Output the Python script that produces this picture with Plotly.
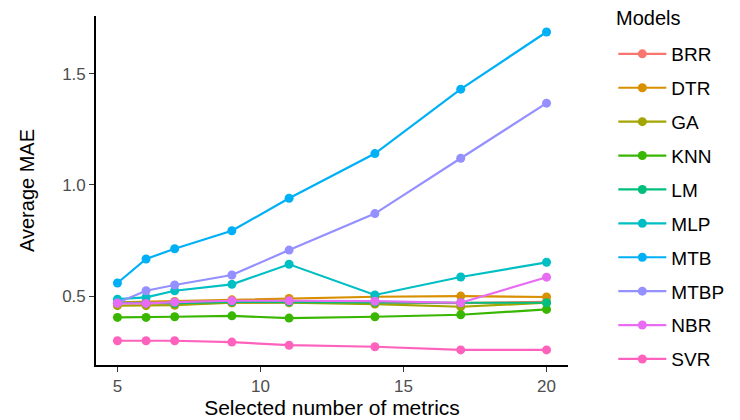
import plotly.graph_objects as go

# Number of selected metrics on the x axis
n_metrics = [5, 6, 7, 9, 11, 14, 17, 20]

models = ["BRR", "DTR", "GA", "KNN", "LM", "MLP", "MTB", "MTBP", "NBR", "SVR"]

# Average MAE per model
brr = [0.468, 0.468, 0.466, 0.470, 0.472, 0.470, 0.468, 0.474]
dtr = [0.472, 0.475, 0.476, 0.483, 0.489, 0.497, 0.500, 0.496]
ga = [0.457, 0.457, 0.459, 0.470, 0.470, 0.464, 0.452, 0.470]
knn = [0.404, 0.404, 0.407, 0.411, 0.401, 0.407, 0.416, 0.440]
lm = [0.470, 0.468, 0.468, 0.474, 0.474, 0.472, 0.470, 0.470]
mlp = [0.486, 0.494, 0.524, 0.553, 0.643, 0.505, 0.586, 0.652]
mtb = [0.559, 0.667, 0.713, 0.794, 0.940, 1.141, 1.431, 1.688]
mtbp = [0.470, 0.524, 0.550, 0.595, 0.707, 0.871, 1.120, 1.368]
nbr = [0.467, 0.467, 0.473, 0.479, 0.479, 0.477, 0.470, 0.585]
svr = [0.299, 0.299, 0.299, 0.293, 0.279, 0.272, 0.258, 0.258]

series = [brr, dtr, ga, knn, lm, mlp, mtb, mtbp, nbr, svr]
colors = ["#F8766D", "#D89000", "#A3A500", "#39B600", "#00BF7D",
          "#00BFC4", "#00B0F6", "#9590FF", "#E76BF3", "#FF62BC"]

fig = go.Figure()
for name, vals, col in zip(models, series, colors):
    fig.add_trace(go.Scatter(
        x=n_metrics, y=vals, name=name, legendgroup=name,
        mode="lines+markers",
        line=dict(color=col, width=2.2),
        marker=dict(color=col, size=9),
    ))

font_family = "Liberation Sans, Arial, sans-serif"

# Legend heading drawn separately so the gap above the first entry can be set freely
fig.add_annotation(
    text="Models", xref="paper", yref="paper",
    x=1.098, y=1.0 + (16 - 18) / 349, xanchor="left", yanchor="middle",
    showarrow=False, font=dict(size=20, color="black"),
)

fig.update_layout(
    width=740, height=420,
    margin=dict(l=96, r=172, t=16, b=55, autoexpand=False),
    paper_bgcolor="white", plot_bgcolor="white",
    font=dict(family=font_family, color="black"),
    xaxis=dict(
        range=[4.25, 20.75], tickvals=[5, 10, 15, 20],
        showgrid=False, zeroline=False,
        showline=True, linecolor="black", linewidth=1.6,
        ticks="outside", ticklen=5, tickcolor="#333333", tickwidth=1.2,
        tickfont=dict(size=17, color="#4D4D4D"),
        title=dict(text="Selected number of metrics", font=dict(size=21), standoff=3),
    ),
    yaxis=dict(
        range=[0.19, 1.76], tickvals=[0.5, 1.0, 1.5], ticktext=["0.5", "1.0", "1.5"],
        showgrid=False, zeroline=False,
        showline=True, linecolor="black", linewidth=1.6,
        ticks="outside", ticklen=5, tickcolor="#333333", tickwidth=1.2,
        tickfont=dict(size=17, color="#4D4D4D"),
        title=dict(text="Average MAE", font=dict(size=20), standoff=22),
    ),
    legend=dict(
        font=dict(size=19),
        x=1.096, xanchor="left", y=1.0 + (16 - 35) / 349, yanchor="top",
        traceorder="grouped", tracegroupgap=6.2, itemwidth=48,
        maxheight=500,
        bgcolor="rgba(0,0,0,0)",
    ),
    showlegend=True,
)

fig.write_html("out.html")
